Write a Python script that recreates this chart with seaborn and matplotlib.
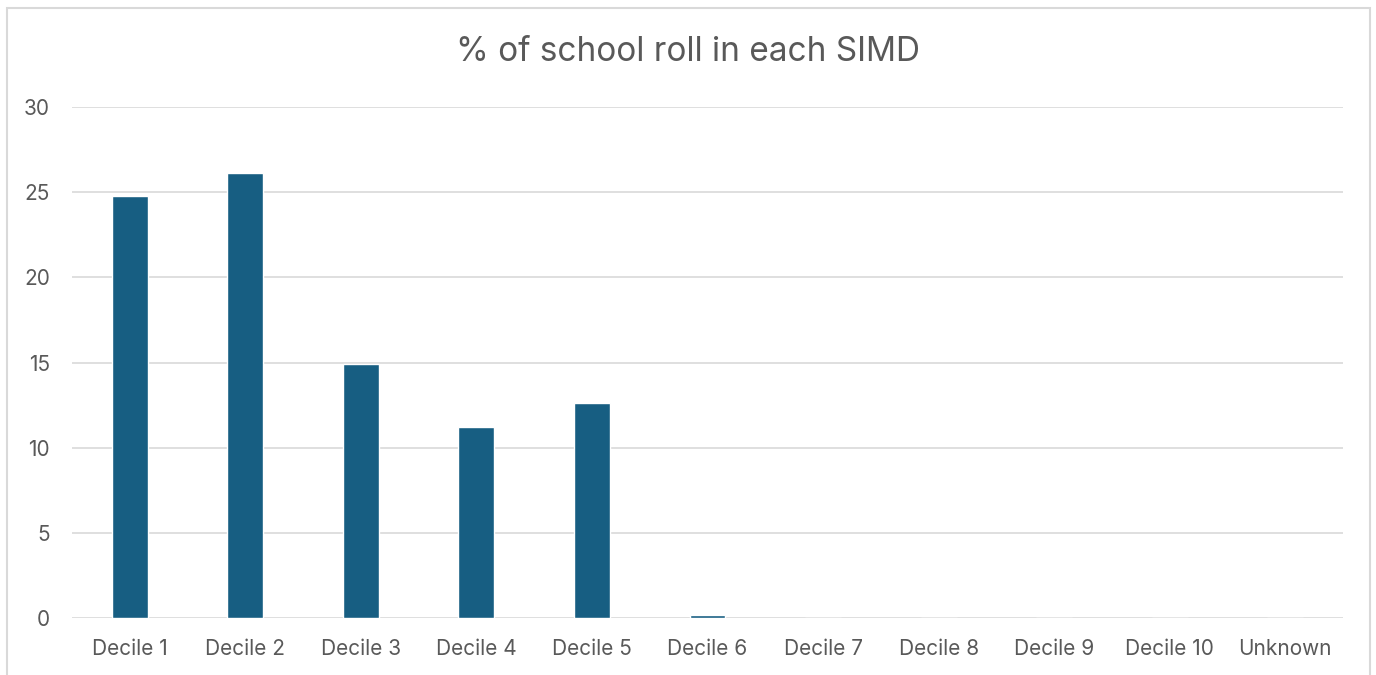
import matplotlib
matplotlib.use('Agg')
import matplotlib.pyplot as plt
import seaborn as sns
import pandas as pd
from matplotlib.patches import Rectangle

sns.set_style('white')
plt.rcParams['font.family'] = ['Inter', 'DejaVu Sans']

categories = ['Decile 1', 'Decile 2', 'Decile 3', 'Decile 4', 'Decile 5', 'Decile 6',
              'Decile 7', 'Decile 8', 'Decile 9', 'Decile 10', 'Unknown']
percent = [24.8, 26.1, 14.9, 11.2, 12.6, 0.2, 0, 0, 0, 0, 0]
y_ticks = [0, 5, 10, 15, 20, 25, 30]

df = pd.DataFrame({'category': categories, 'percent': percent})

fig = plt.figure(figsize=(13.76, 6.75), dpi=100)
ax = fig.add_axes([72/1376, 1-618/675, (1343-72)/1376, (618-107)/675])

sns.barplot(data=df, x='category', y='percent', color='#175E82', width=0.31,
            saturation=1, ax=ax)

ax.set_ylim(0, 30)
ax.set_yticks(y_ticks)
ax.set_xlim(-0.5, len(categories) - 0.5)
ax.yaxis.grid(True, color='#d9d9d9', linewidth=1.2)
ax.set_axisbelow(True)
for s in ax.spines.values():
    s.set_visible(False)
ax.set_xlabel('')
ax.set_ylabel('')
ax.tick_params(axis='both', length=0, labelsize=15, colors='#595959')
ax.tick_params(axis='y', pad=16)
ax.tick_params(axis='x', pad=15)

fig.text(0.5, 1-52/675, '% of school roll in each SIMD', ha='center', va='center',
         fontsize=24, color='#595959')

fig.patches.append(Rectangle((7/1376, -0.1), (1370-7)/1376, 1.1-8/675,
                             transform=fig.transFigure, fill=False,
                             edgecolor='#d9d9d9', linewidth=1.5))

fig.savefig('out.png', dpi=100)
